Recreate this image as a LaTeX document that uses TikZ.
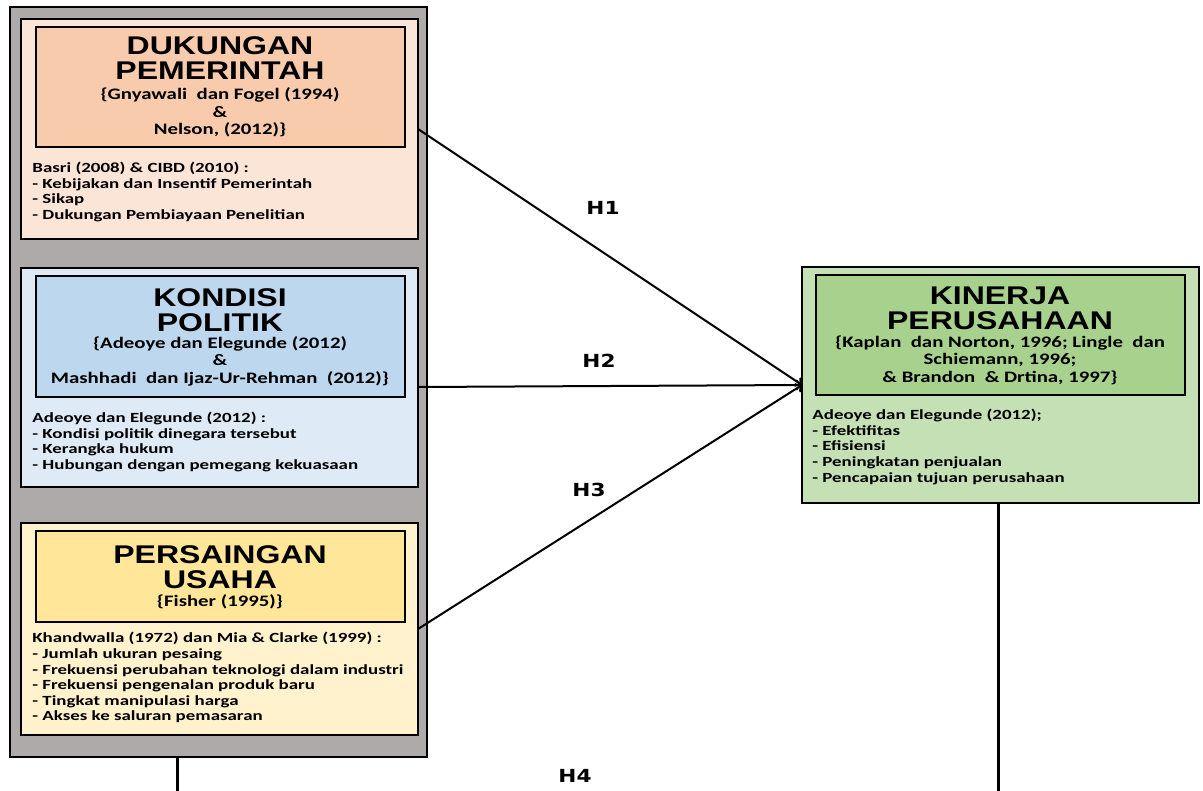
\documentclass[tikz,border=0pt]{standalone}
\usepackage{fontspec}
\setmainfont{Carlito}
\newfontfamily\headfont{Liberation Sans}[FakeStretch=1.25]
\newfontfamily\reffont{Carlito}[FakeStretch=1.3]
\newfontfamily\bodyfont{Carlito}[FakeStretch=1.35]
\newfontfamily\hypfont{DejaVu Sans}[FakeStretch=1.2]

\definecolor{outergray}{HTML}{AEAAAA}
\definecolor{govlight}{HTML}{FBE5D6}
\definecolor{govdark}{HTML}{F8CBAD}
\definecolor{pollight}{HTML}{DEEBF7}
\definecolor{poldark}{HTML}{BDD7EE}
\definecolor{complight}{HTML}{FFF2CC}
\definecolor{compdark}{HTML}{FFE699}
\definecolor{perflight}{HTML}{C5E0B4}
\definecolor{perfdark}{HTML}{A9D18E}

\tikzset{
  panel/.style={draw=black, line width=1pt, inner sep=0pt, outer sep=0pt, anchor=north west},
  titletext/.style={font=\headfont\bfseries\fontsize{12.8}{12.5}\selectfont, align=center, inner sep=0pt},
  reftext/.style={font=\reffont\bfseries\fontsize{8}{8.75}\selectfont, align=center, inner sep=0pt},
  bodytext/.style={font=\bodyfont\bfseries\fontsize{7}{7.8}\selectfont, align=left, inner sep=0pt, anchor=north west},
  hyp/.style={font=\hypfont\bfseries\fontsize{9}{10}\selectfont, inner sep=0pt},
  hline/.style={line width=1pt},
  stem/.style={line width=1.5pt}
}

\begin{document}
\begin{tikzpicture}[x=0.5pt, y=-0.5pt]
    \useasboundingbox (0,0) rectangle (1203,791);
    % left column
    \node[panel, fill=outergray, minimum width=208.5pt, minimum height=375pt] at (10,7) (left) {};
    % dukungan pemerintah
    \node[panel, fill=govlight, minimum width=198.5pt, minimum height=110pt] at (21,19) (gov) {};
    \node[panel, fill=govdark, minimum width=184.5pt, minimum height=60pt] at (36,27) (govhead) {};
    \node[titletext] at (220,58.5) (govtitle) {DUKUNGAN\\PEMERINTAH};
    \node[reftext] at (220,112.5) (govref) {\{Gnyawali\ \ dan Fogel (1994)\\\&\\Nelson, (2012)\}};
    \node[bodytext] at (32,162) (govbody) {Basri (2008) \& CIBD (2010) :\\- Kebijakan dan Insentif Pemerintah\\- Sikap\\- Dukungan Pembiayaan Penelitian};
    % kondisi politik
    \node[panel, fill=pollight, minimum width=198.5pt, minimum height=109.5pt] at (21,268) (pol) {};
    \node[panel, fill=poldark, minimum width=184.5pt, minimum height=60.5pt] at (36,276) (polhead) {};
    \node[titletext] at (220,310) (poltitle) {KONDISI\\POLITIK};
    \node[reftext] at (220,361) (polref) {\{Adeoye dan Elegunde (2012)\\\&\\Mashhadi\ \ dan Ijaz-Ur-Rehman\ \ (2012)\}};
    \node[bodytext] at (32,412) (polbody) {Adeoye dan Elegunde (2012) :\\- Kondisi politik dinegara tersebut\\- Kerangka hukum\\- Hubungan dengan pemegang kekuasaan};
    % persaingan usaha
    \node[panel, fill=complight, minimum width=198.5pt, minimum height=106pt] at (21,523) (comp) {};
    \node[panel, fill=compdark, minimum width=184.5pt, minimum height=45.5pt] at (36,531) (comphead) {};
    \node[titletext] at (220,567.5) (comptitle) {PERSAINGAN\\USAHA};
    \node[reftext] at (220,602) (compref) {\{Fisher (1995)\}};
    \node[bodytext] at (32,632) (compbody) {Khandwalla (1972) dan Mia \& Clarke (1999) :\\- Jumlah ukuran pesaing\\- Frekuensi perubahan teknologi dalam industri\\- Frekuensi pengenalan produk baru\\- Tingkat manipulasi harga\\- Akses ke saluran pemasaran};
    % kinerja perusahaan
    \node[panel, fill=perflight, minimum width=198.5pt, minimum height=118pt] at (802,267) (perf) {};
    \node[panel, fill=perfdark, minimum width=184.5pt, minimum height=60pt] at (816,275) (perfhead) {};
    \node[titletext] at (1000,308.5) (perftitle) {KINERJA\\PERUSAHAAN};
    \node[reftext] at (1000,360) (perfref) {\{Kaplan\ \ dan Norton, 1996; Lingle\ \ dan\\Schiemann, 1996;\\\& Brandon\ \ \& Drtina, 1997\}};
    \node[bodytext] at (812,409) (perfbody) {Adeoye dan Elegunde (2012);\\- Efektifitas\\- Efisiensi\\- Peningkatan penjualan\\- Pencapaian tujuan perusahaan};
    % hipotesis
    \draw[hline, ->] (gov.east) -- (perf.west);
    \draw[hline, ->] ([yshift=-4.75pt]pol.east) -- (perf.west);
    \draw[hline, ->] (comp.east) -- (perf.west);
    \node[hyp] at (603,208) (h1) {H1};
    \node[hyp] at (599,361) (h2) {H2};
    \node[hyp] at (589,490) (h3) {H3};
    \node[hyp] at (575,776) (h4) {H4};
    \coordinate (h4l) at (177,791);
    \coordinate (h4r) at (998,791);
    \draw[stem] (h4l |- left.south) -- (h4l);
    \draw[stem] (h4r |- perf.south) -- (h4r);
\end{tikzpicture}
\end{document}
